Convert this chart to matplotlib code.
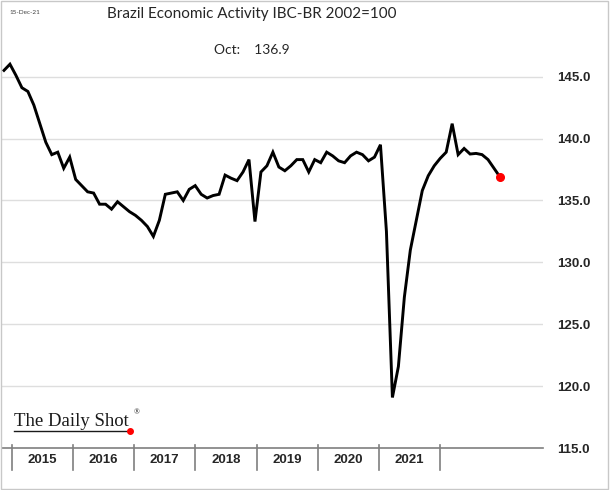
import matplotlib
matplotlib.use("Agg")
import matplotlib.pyplot as plt
from matplotlib.lines import Line2D
from matplotlib.patches import Rectangle
import numpy as np

# monthly IBC-Br index, Nov 2014 .. Oct 2021
ibc = [145.5, 146.0, 145.1, 144.1, 143.8, 142.7, 141.2, 139.7, 138.7, 138.9,
       137.6, 138.5, 136.7, 136.2, 135.7, 135.6, 134.7, 134.7, 134.3, 134.9,
       134.5, 134.1, 133.8, 133.4, 132.9, 132.1, 133.4, 135.5, 135.6, 135.7,
       135.0, 135.9, 136.2, 135.5, 135.2, 135.4, 135.5, 137.05, 136.8, 136.6,
       137.3, 138.3, 133.3, 137.3, 137.8, 138.9, 137.7, 137.4, 137.8, 138.3,
       138.3, 137.3, 138.3, 138.05, 138.9, 138.6, 138.2, 138.05, 138.6, 138.9,
       138.7, 138.2, 138.5, 139.5, 132.5, 119.1, 121.6, 127.2, 131.0, 133.4,
       135.8, 137.0, 137.8, 138.4, 138.9, 141.2, 138.7, 139.2, 138.75, 138.8,
       138.7, 138.3, 137.6, 136.9]
years = ["2015", "2016", "2017", "2018", "2019", "2020", "2021"]
y_ticks = [115, 120, 125, 130, 135, 140, 145]

# year band layout on the category axis (as drawn in the source chart)
band_start = 1.3
band_width = 10.24

W, H = 611, 490
fig = plt.figure(figsize=(W / 100, H / 100), dpi=100)
ax = fig.add_axes([2 / W, 1 - 448.3 / H, 541 / W, (448.3 - 58) / H])

x = np.arange(len(ibc))
ax.plot(x, ibc, color="black", lw=2.1, solid_joinstyle="miter", zorder=3)
ax.plot(x[-1], ibc[-1], "o", color="#ff0000", ms=5.5, zorder=4)

ax.set_xlim(-0.33, 90.2)
ax.set_ylim(115, 146.5)
ax.set_yticks(y_ticks)
ax.set_yticklabels(["%.1f" % v for v in y_ticks], fontweight="bold",
                   fontsize=9.5, family="Liberation Sans", color="#262626")
ax.yaxis.tick_right()
ax.tick_params(axis="y", length=0, pad=10)
ax.set_xticks([])
for v in y_ticks[1:]:
    ax.axhline(v, color="#dedede", lw=1.0, zorder=1)

for s in ["top", "left", "right"]:
    ax.spines[s].set_visible(False)
ax.spines["bottom"].set_color("#7f7f7f")
ax.spines["bottom"].set_linewidth(1.2)

# year separators and labels below the axis
trans = ax.get_xaxis_transform()
for k in range(len(years) + 1):
    xs = band_start + k * band_width
    ax.add_line(Line2D([xs, xs], [0.008, -0.055], transform=trans,
                       color="#7f7f7f", lw=1.2, clip_on=False))
for k, yr in enumerate(years):
    ax.text(band_start + (k + 0.5) * band_width, -0.03, yr, transform=trans,
            ha="center", va="center", fontsize=9.5, fontweight="bold",
            family="Liberation Sans", color="#262626")

fig.text(252 / W, 1 - 14 / H, "Brazil Economic Activity IBC-BR 2002=100",
         ha="center", va="center", fontsize=11, family="Lato", color="#262626")
fig.text(252 / W, 1 - 50 / H, "Oct:    136.9", ha="center", va="center",
         fontsize=10, family="Lato", color="#262626")
fig.text(10 / W, 1 - 13 / H, "15-Dec-21", ha="left", va="center",
         fontsize=4.6, family="Lato", color="#404040")

# logo
fig.text(14 / W, 1 - 421 / H, "The Daily Shot", ha="left", va="center",
         fontsize=13.5, family="Liberation Serif", color="#1a1a1a")
fig.text(134 / W, 1 - 412 / H, "®", ha="left", va="center",
         fontsize=5.5, family="Liberation Serif", color="#1a1a1a")
fig.add_artist(Line2D([14 / W, 128 / W], [1 - 431 / H, 1 - 431 / H],
                      transform=fig.transFigure, color="#1a1a1a", lw=1.0))
fig.add_artist(Line2D([130 / W], [1 - 431 / H], transform=fig.transFigure,
                      marker="o", color="#ff0000", ms=4))

fig.add_artist(Rectangle((0.5 / W, 1.5 / H), 1 - 3.5 / W, 1 - 3 / H,
                         transform=fig.transFigure, fill=False,
                         edgecolor="#c8c8c8", lw=1.0))

fig.savefig("out.png", dpi=100)
